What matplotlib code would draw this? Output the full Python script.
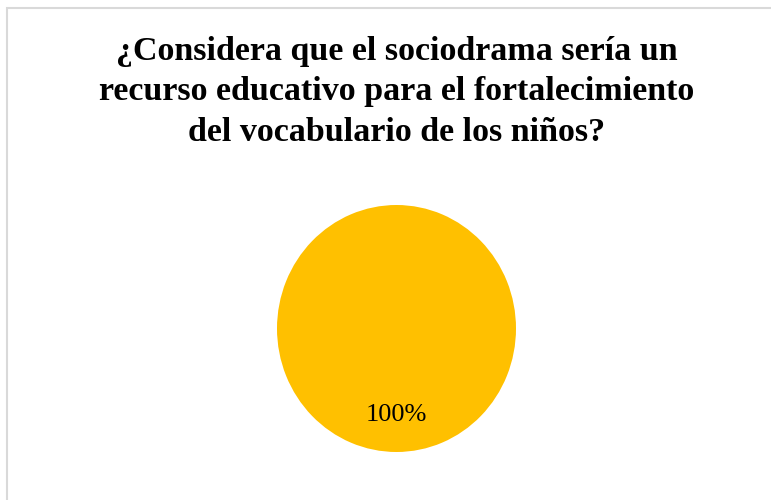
import matplotlib
matplotlib.use("Agg")
import matplotlib.pyplot as plt
from matplotlib.patches import Rectangle

categories = ["Sí"]
values = [100]
colors = ["#FFC000"]
title = "¿Considera que el sociodrama sería un\nrecurso educativo para el fortalecimiento\ndel vocabulario de los niños?"

W, H = 771, 500
fig = plt.figure(figsize=(W / 100, H / 100), dpi=100)
fig.patch.set_facecolor("white")

# chart border (light gray), extending beyond right and bottom edges
fig.patches.append(Rectangle((7 / W, -0.1), 1.2, (492 / H) + 0.1, transform=fig.transFigure,
                             fill=False, edgecolor="#d9d9d9", linewidth=1.5))

fig.text(397 / W, 1 - 92 / H, title, ha="center", va="center",
         fontsize=24.5, fontweight="bold", family="Liberation Serif",
         linespacing=1.38, color="black")

# pie region in pixels (slightly taller than wide, as in the reference)
left, right, top, bottom = 277, 516, 205, 452
ax = fig.add_axes([left / W, (H - bottom) / H, (right - left) / W, (bottom - top) / H])
wedges, texts, autotexts = ax.pie(values, colors=colors, startangle=90, counterclock=False,
                                  autopct=lambda p: f"{p:.0f}%", pctdistance=0.70,
                                  radius=1, wedgeprops=dict(linewidth=0))
for t in autotexts:
    t.set_fontsize(19)
    t.set_family("Liberation Serif")
    t.set_color("black")
ax.set_xlim(-1, 1)
ax.set_ylim(-1, 1)
ax.set_aspect("auto")
ax.axis("off")

fig.savefig("out.png", dpi=100)
